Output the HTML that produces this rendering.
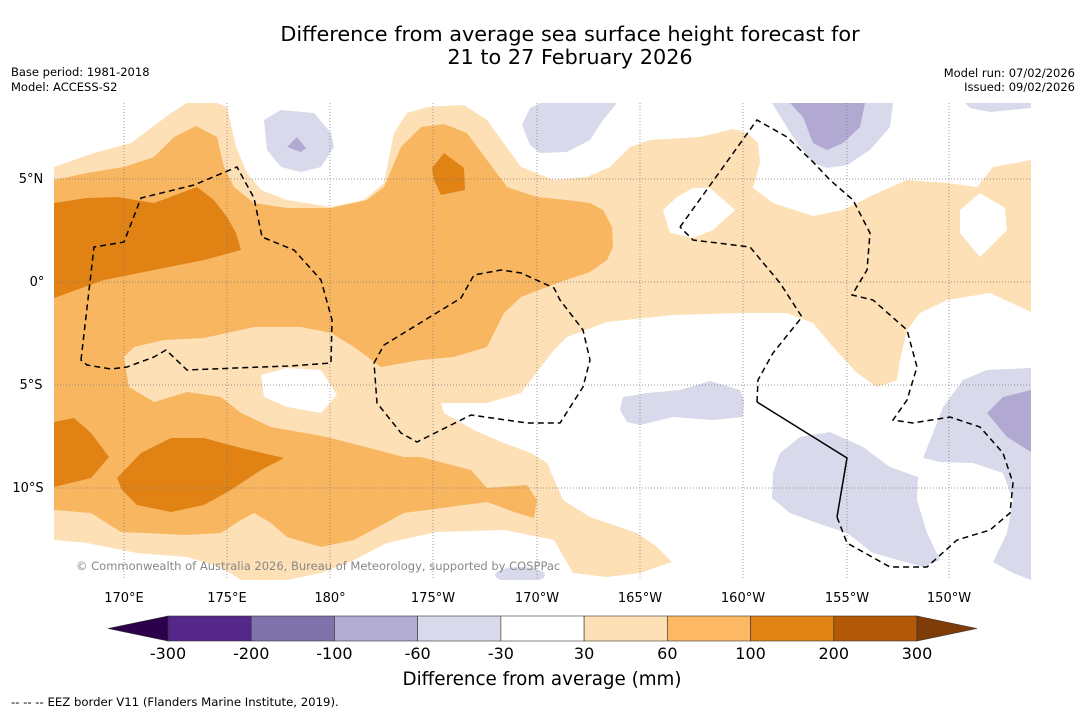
<!DOCTYPE html>
<html><head><meta charset="utf-8"><style>
body{margin:0;background:#fff;width:1085px;height:713px;overflow:hidden;font-family:"Liberation Sans","DejaVu Sans",sans-serif}
svg{position:absolute;left:0;top:0}
</style></head><body>
<svg width="1085" height="713">
<g font-family="DejaVu Sans, Liberation Sans, sans-serif">
<text x="570" y="41" text-anchor="middle" font-size="20.8">Difference from average sea surface height forecast for</text>
<text x="570" y="64" text-anchor="middle" font-size="20.8">21 to 27 February 2026</text>
<text x="11" y="76" font-size="11.5">Base period: 1981-2018</text>
<text x="11" y="91" font-size="11.5">Model: ACCESS-S2</text>
<text x="1075" y="77" font-size="11.5" text-anchor="end">Model run: 07/02/2026</text>
<text x="1075" y="91" font-size="11.5" text-anchor="end">Issued: 09/02/2026</text>
</g>
<g>
<clipPath id="mc"><rect x="54" y="103" width="977" height="477"/></clipPath>
<g clip-path="url(#mc)">
<path fill="#fde0b6" fill-rule="evenodd" d="M54,167 L94,153 131,143 171,113 187,103 217,103 227,107 236,147 247,173 261,190 287,200 331,207 364,200 384,183 394,133 407,113 427,107 464,105 487,120 521,167 554,180 587,177 610,167 630,147 650,140 700,137 733,129 747,133 758,143 760,163 753,188 773,203 813,216 843,210 873,195 907,180 947,183 977,187 993,167 1031,160 1031,312 990,293 947,300 920,313 907,330 900,360 897,380 877,387 857,373 833,347 813,323 787,313 740,313 673,315 607,322 567,337 554,350 544,363 521,393 487,403 441,403 444,413 474,430 504,443 531,453 547,463 563,500 590,517 637,533 657,547 672,562 640,573 607,577 573,573 554,540 504,530 437,532 387,543 354,560 321,573 287,580 241,580 221,567 187,557 137,553 87,543 54,540 Z M663,210 677,197 693,188 710,188 735,210 713,230 693,238 670,233 Z M960,210 980,193 1005,208 1007,230 980,257 960,233 Z M261,375 287,368 321,370 337,395 321,413 287,407 264,397 Z"/>
<path fill="#f9b661" d="M54,180 L87,173 124,167 154,157 174,137 196,126 217,137 224,167 234,187 254,203 287,208 331,208 367,200 384,187 401,147 421,127 444,124 467,133 487,160 507,187 537,197 567,200 590,203 603,210 612,227 613,247 607,260 590,272 560,282 521,297 504,313 487,347 454,357 421,360 381,367 354,347 331,333 301,327 254,327 204,338 164,340 134,347 124,357 129,387 154,402 187,392 221,397 241,413 271,427 327,437 404,457 421,457 471,470 487,488 527,485 537,500 534,518 514,512 487,502 404,513 354,540 321,547 287,537 271,523 254,513 241,520 221,533 187,535 121,532 91,513 54,510 Z"/>
<g fill="#e08214">
<path d="M54,203 87,198 117,197 154,203 197,187 214,200 227,217 236,233 241,250 204,260 154,270 104,280 54,298 Z"/>
<path d="M432,168 444,153 464,168 465,190 441,195 434,180 Z"/>
<path d="M54,422 74,418 91,433 109,457 91,478 54,487 Z"/>
<path d="M117,478 141,453 171,438 204,438 241,448 284,458 261,470 231,490 204,505 171,512 137,505 122,490 Z"/>
</g>
<g fill="#d8d9ea">
<path d="M264,120 281,110 314,113 331,133 334,147 321,167 301,172 281,167 267,150 Z"/>
<path d="M540,103 617,103 603,120 590,140 567,152 540,153 530,145 522,125 530,108 Z"/>
<path d="M772,103 893,103 890,127 870,150 847,165 827,168 813,163 793,137 Z"/>
<path d="M965,103 1031,103 1031,108 990,112 970,108 Z"/>
<path d="M623,397 647,393 680,390 710,381 740,390 744,400 743,417 713,420 673,417 640,425 627,422 620,410 Z"/>
<path d="M780,453 800,437 830,432 863,447 890,467 918,477 917,500 927,533 940,560 923,567 873,553 847,533 817,523 790,513 772,498 773,473 Z"/>
<path d="M923,458 933,433 943,407 963,380 987,370 1031,368 1031,580 1013,573 993,562 1007,533 1013,500 1003,473 973,463 940,462 Z"/>
<ellipse cx="520" cy="575" rx="25" ry="8"/>
</g>
<g fill="#b1a9d2">
<path d="M287,147 297,137 306,148 301,152 Z"/>
<path d="M790,103 865,103 860,127 843,143 827,150 813,143 803,117 Z"/>
<path d="M987,413 1003,397 1031,390 1031,452 1007,437 Z"/>
</g>
<g stroke="#777" stroke-width="0.7" stroke-dasharray="1,2">
<line x1="124" y1="103" x2="124" y2="580"/><line x1="227" y1="103" x2="227" y2="580"/><line x1="330" y1="103" x2="330" y2="580"/><line x1="433" y1="103" x2="433" y2="580"/><line x1="537" y1="103" x2="537" y2="580"/><line x1="640" y1="103" x2="640" y2="580"/><line x1="743" y1="103" x2="743" y2="580"/><line x1="847" y1="103" x2="847" y2="580"/><line x1="949" y1="103" x2="949" y2="580"/>
<line x1="54" y1="179" x2="1031" y2="179"/><line x1="54" y1="282" x2="1031" y2="282"/><line x1="54" y1="385" x2="1031" y2="385"/><line x1="54" y1="488" x2="1031" y2="488"/>
</g>
<g fill="none" stroke="#000" stroke-width="1.5" stroke-dasharray="6,4">
<path d="M81,360 94,247 124,242 141,198 194,185 237,167 254,198 262,237 294,250 321,280 332,320 331,363 290,366 261,367 187,370 166,350 154,357 127,367 111,369 87,365 Z"/>
<path d="M374,363 384,345 461,298 474,275 501,270 521,273 554,288 560,300 583,330 590,360 583,387 560,423 527,423 471,415 417,442 401,433 377,403 Z"/>
<path d="M680,227 757,120 787,137 813,162 830,180 853,200 870,233 867,270 852,295 873,300 907,330 917,367 907,400 893,420 913,423 950,417 980,427 1003,453 1013,483 1010,513 990,530 957,540 927,567 890,567 847,543 837,517"/>
<path d="M757,402 758,380 773,353 802,317 780,283 750,247 693,240 680,227"/>
</g>
<path d="M837,517 847,458 757,402" fill="none" stroke="#000" stroke-width="1.5"/>
<text x="76" y="570" font-size="11.5" fill="#888" font-family="DejaVu Sans, Liberation Sans, sans-serif">© Commonwealth of Australia 2026, Bureau of Meteorology, supported by COSPPac</text>
</g>
</g>
<g font-family="DejaVu Sans, Liberation Sans, sans-serif" font-size="13" text-anchor="middle">
<text x="124" y="602">170°E</text><text x="227" y="602">175°E</text><text x="330" y="602">180°</text><text x="433" y="602">175°W</text><text x="537" y="602">170°W</text><text x="640" y="602">165°W</text><text x="743" y="602">160°W</text><text x="847" y="602">155°W</text><text x="949" y="602">150°W</text>
<text x="31" y="183">5°N</text><text x="37" y="286">0°</text><text x="31" y="389">5°S</text><text x="28" y="492">10°S</text>
</g>
<g id="cbar"></g>
<text x="542" y="685" text-anchor="middle" font-size="18.3" font-family="DejaVu Sans, Liberation Sans, sans-serif">Difference from average (mm)</text>
<text x="11" y="706" font-size="11.7" font-family="DejaVu Sans, Liberation Sans, sans-serif">--  --  -- EEZ border V11 (Flanders Marine Institute, 2019).</text>
</svg>
<script>
const boundaries=[-300,-200,-100,-60,-30,30,60,100,200,300];
const binColors=["#542788","#8073ac","#b2abd2","#d8daeb","#ffffff","#fee0b6","#fdb863","#e08214","#b35806"];
const extendColors=["#2d004b","#7f3b08"];
const NS="http://www.w3.org/2000/svg";
const g=document.getElementById('cbar');
const x0=168,x1=917,y0=616,h=25,tri=60;
const w=(x1-x0)/binColors.length;
function xi(i){return x0+i*w;}
binColors.forEach((c,i)=>{const r=document.createElementNS(NS,'rect');
r.setAttribute('x',xi(i));r.setAttribute('y',y0);r.setAttribute('width',w);r.setAttribute('height',h);
r.setAttribute('fill',c);r.setAttribute('stroke','#333');r.setAttribute('stroke-width','0.6');


g.appendChild(r);});
const lt=document.createElementNS(NS,'polygon');
lt.setAttribute('points',`${x0},${y0} ${x0-tri},${y0+h/2} ${x0},${y0+h}`);lt.setAttribute('fill',extendColors[0]);lt.setAttribute('stroke','#333');lt.setAttribute('stroke-width','0.6');


g.appendChild(lt);
const rt=document.createElementNS(NS,'polygon');
rt.setAttribute('points',`${x1},${y0} ${x1+tri},${y0+h/2} ${x1},${y0+h}`);rt.setAttribute('fill',extendColors[1]);rt.setAttribute('stroke','#333');rt.setAttribute('stroke-width','0.6');


g.appendChild(rt);
boundaries.forEach((b,i)=>{const t=document.createElementNS(NS,'text');
t.setAttribute('x',xi(i));t.setAttribute('y',659);t.setAttribute('text-anchor','middle');t.setAttribute('font-size','16');
t.setAttribute('font-family','DejaVu Sans, Liberation Sans, sans-serif');t.textContent=b;


g.appendChild(t);});
</script>
</body></html>
